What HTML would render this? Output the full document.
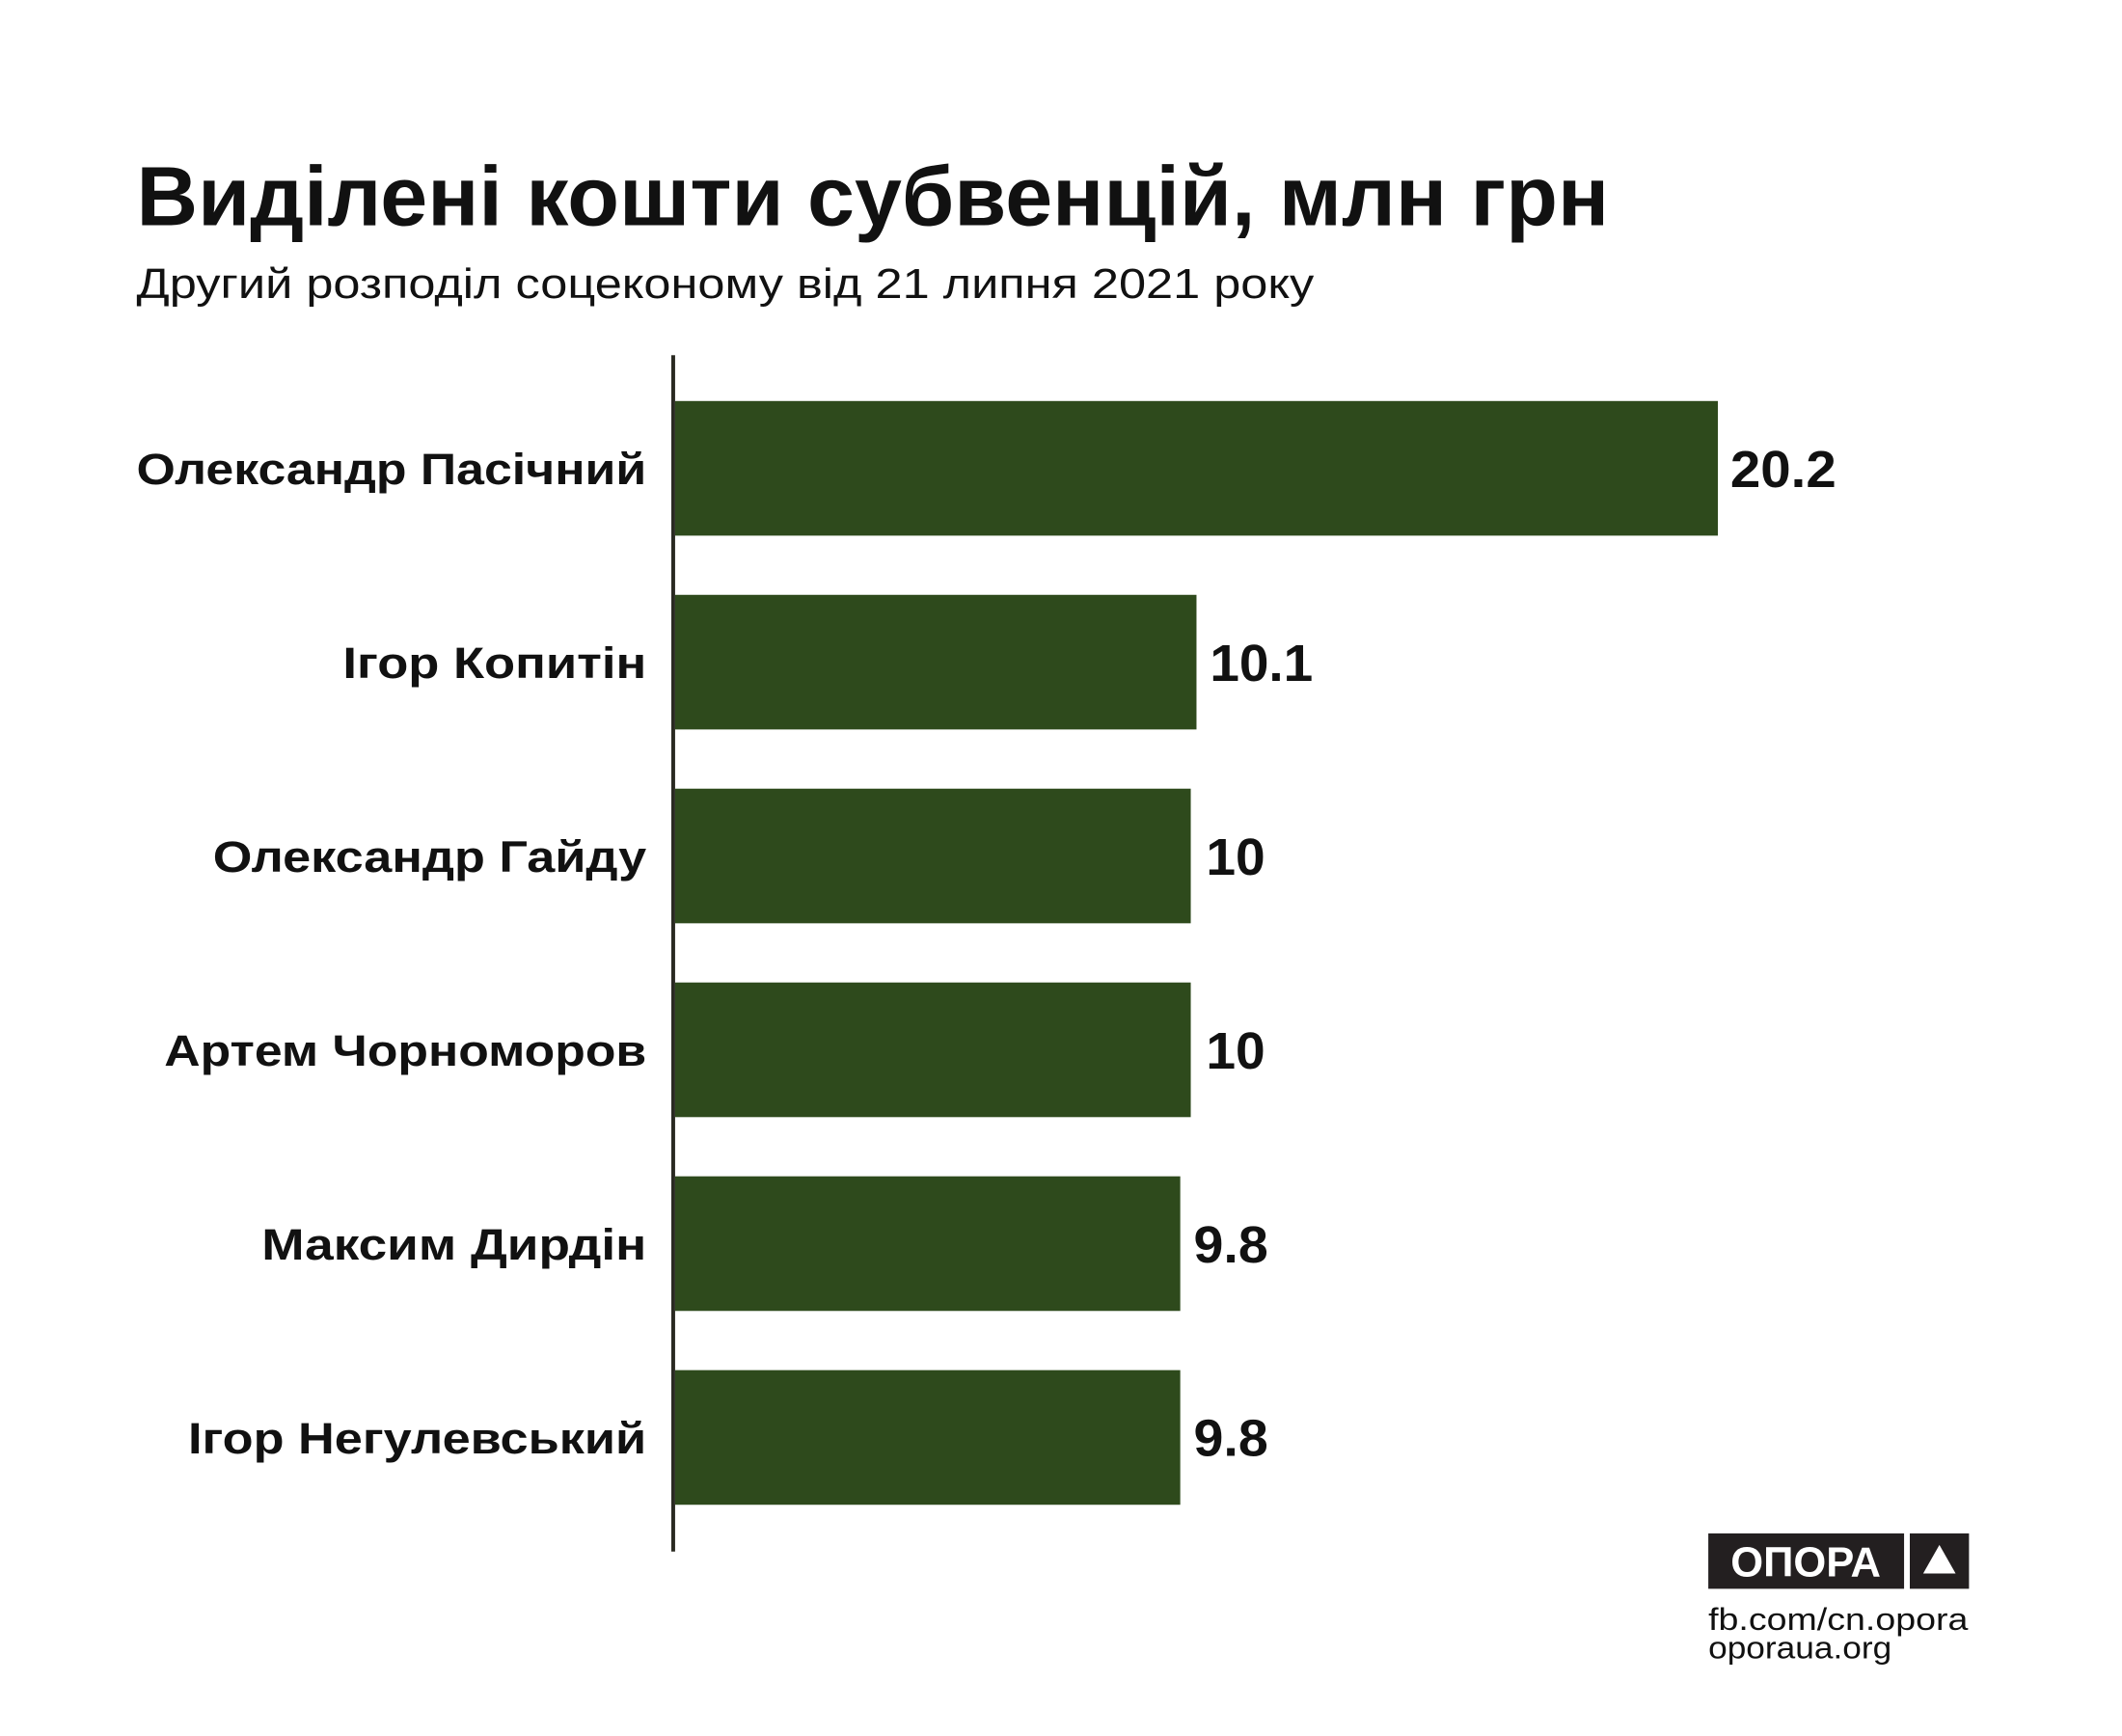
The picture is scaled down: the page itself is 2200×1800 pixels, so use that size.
<!DOCTYPE html>
<html><head><meta charset="utf-8"><style>
html,body{margin:0;padding:0;background:#fff;}
svg{display:block;}
</style></head><body>
<svg width="2200" height="1800" viewBox="0 0 2200 1800" xmlns="http://www.w3.org/2000/svg" font-family="'Liberation Sans', sans-serif">
<rect width="2200" height="1800" fill="#fff"/>
<g transform="scale(0.99)">
<text x="143" y="236" font-size="88" font-weight="bold" fill="#111" textLength="1542" lengthAdjust="spacingAndGlyphs">Виділені кошти субвенцій, млн грн</text>
<text x="143" y="312" font-size="44" fill="#111" textLength="1233" lengthAdjust="spacingAndGlyphs">Другий розподіл соцеконому від 21 липня 2021 року</text>
<g fill="#2e4a1c">
<rect x="707" y="420" width="1092" height="141"/>
<rect x="707" y="623" width="546" height="141"/>
<rect x="707" y="826" width="540" height="141"/>
<rect x="707" y="1029" width="540" height="141"/>
<rect x="707" y="1232" width="529" height="141"/>
<rect x="707" y="1435" width="529" height="141"/>
</g>
<rect x="703" y="372" width="4" height="1253" fill="#2a2a22"/>
<g font-size="46" font-weight="bold" fill="#111" text-anchor="end">
<text x="677" y="507" textLength="534" lengthAdjust="spacingAndGlyphs">Олександр Пасічний</text>
<text x="677" y="710" textLength="318" lengthAdjust="spacingAndGlyphs">Ігор Копитін</text>
<text x="677" y="913" textLength="454" lengthAdjust="spacingAndGlyphs">Олександр Гайду</text>
<text x="677" y="1116" textLength="505" lengthAdjust="spacingAndGlyphs">Артем Чорноморов</text>
<text x="677" y="1319" textLength="403" lengthAdjust="spacingAndGlyphs">Максим Дирдін</text>
<text x="677" y="1522" textLength="480" lengthAdjust="spacingAndGlyphs">Ігор Негулевський</text>
</g>
<g font-size="54" font-weight="bold" fill="#111">
<text x="1812" y="510" textLength="111" lengthAdjust="spacingAndGlyphs">20.2</text>
<text x="1267" y="713" textLength="108" lengthAdjust="spacingAndGlyphs">10.1</text>
<text x="1263" y="916" textLength="62" lengthAdjust="spacingAndGlyphs">10</text>
<text x="1263" y="1119" textLength="62" lengthAdjust="spacingAndGlyphs">10</text>
<text x="1250" y="1322" textLength="78" lengthAdjust="spacingAndGlyphs">9.8</text>
<text x="1250" y="1525" textLength="78" lengthAdjust="spacingAndGlyphs">9.8</text>
</g>
<rect x="1789" y="1606" width="205" height="58" fill="#231f20"/>
<text x="1891" y="1651" font-size="44" font-weight="bold" fill="#fff" text-anchor="middle">ОПОРА</text>
<rect x="2000" y="1606" width="62" height="58" fill="#231f20"/>
<polygon points="2031,1618 2048,1648 2014,1648" fill="#fff"/>
<text x="1789" y="1707" font-size="33" fill="#111" textLength="272" lengthAdjust="spacingAndGlyphs">fb.com/cn.opora</text>
<text x="1789" y="1737" font-size="33" fill="#111" textLength="192" lengthAdjust="spacingAndGlyphs">oporaua.org</text>
</g>
</svg>
</body></html>
